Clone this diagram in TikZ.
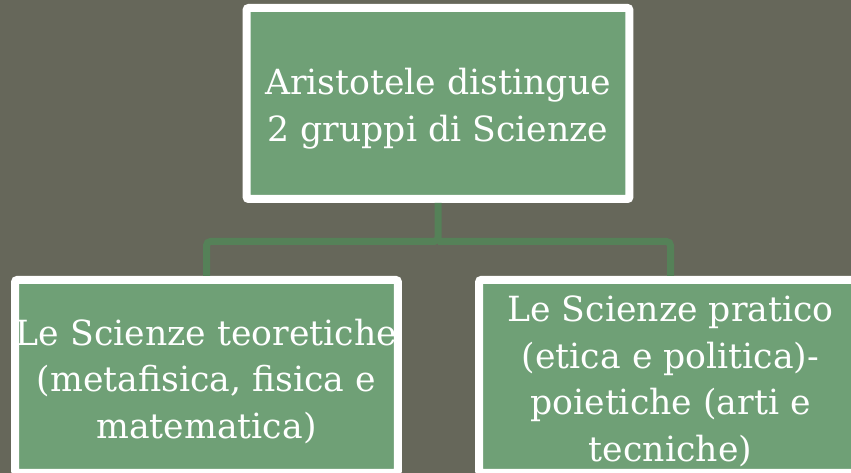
\documentclass[tikz,border=0pt]{standalone}
\usepackage{fontspec}
\setmainfont{DejaVu Serif}
\usetikzlibrary{calc}
\definecolor{bgolive}{HTML}{66675A}
\definecolor{boxgreen}{HTML}{6FA076}
\definecolor{linkgreen}{HTML}{558158}

\begin{document}
\begin{tikzpicture}
  [
    x=0.75pt, y=-0.75pt,
    box/.style={draw=white, line width=6pt, fill=boxgreen, rounded corners=1.5pt,
      minimum width=287pt, inner sep=0pt},
    words/.style={text=white, align=center, inner sep=0pt,
      font=\fontsize{26}{35}\selectfont},
    link/.style={draw=linkgreen, line width=5.25pt, rounded corners=3pt}
  ]
  \fill [bgolive] (0, 0) rectangle (851, 473);
  \useasboundingbox (0, 0) rectangle (851, 473);
  \node [box, minimum height=143.25pt] at (438, 103.5) (top) {};
  \node [box, minimum height=144.75pt] at (206.5, 376.5) (theory) {};
  \node [box, minimum height=144.75pt] at (670.5, 376.5) (practice) {};
  \node [words] at ([yshift=-3.75pt]top.center) (top text)
    {Aristotele distingue\\2 gruppi di Scienze};
  \node [words] at ([yshift=-3.75pt]theory.center) (theory text)
    {Le Scienze teoretiche\\(metafisica, fisica e\\matematica)};
  \node [words] at ([yshift=-3.75pt]practice.center) (practice text)
    {Le Scienze pratico\\(etica e politica)-\\poietiche (arti e\\tecniche)};
  \coordinate (split) at (438, 241.5);
  \draw [link] (top.south) -- (split) -| (theory.north);
  \draw [link] (split) -| (practice.north);

\end{tikzpicture}
\end{document}
